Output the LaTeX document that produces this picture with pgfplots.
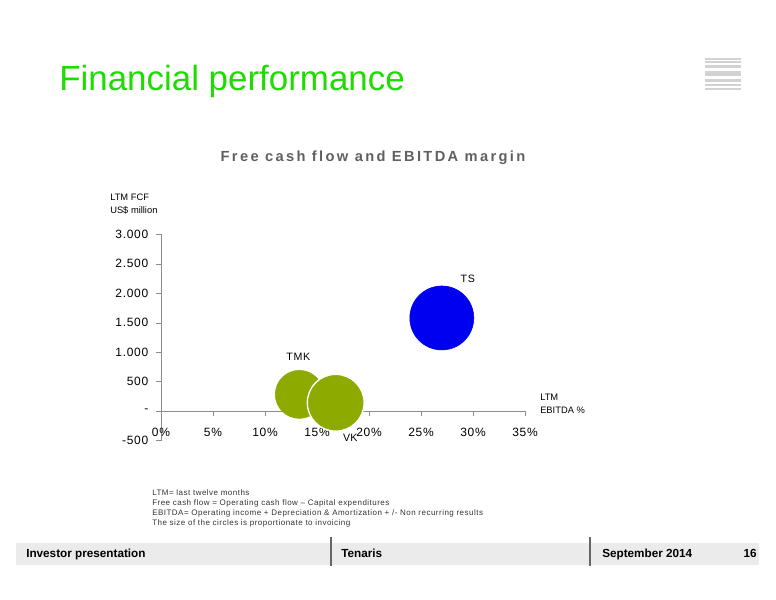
\documentclass[border=0pt]{standalone}
\usepackage{fontspec}
\setmainfont{Liberation Sans}
\usepackage{pgfplots}
\pgfplotsset{compat=1.18}

\definecolor{headgreen}{RGB}{30,220,0}
\definecolor{bubgreen}{RGB}{141,170,0}
\definecolor{tsblue}{RGB}{0,0,240}
\definecolor{titlegray}{RGB}{96,96,96}
\definecolor{barfill}{RGB}{235,235,235}
\definecolor{axgray}{RGB}{140,140,140}

\newcommand{\spaced}[1]{\addfontfeature{LetterSpace=#1}}

\begin{document}
\begin{tikzpicture}[x=0.75pt,y=-0.75pt]
\path (0,0) rectangle (776,600);

% heading
\node[anchor=base west,inner sep=0,text=headgreen,font=\fontsize{26.2}{30}\selectfont]
  at (59,90) {Financial performance};

% logo stripes
\foreach \a/\b in {58/60,61/62.5,64.5/68,70.5/76,79/82,83.5/86,88/89.5}
  \fill[gray!35] (705,\a) rectangle (741,\b);

% chart title
\node[anchor=center,inner sep=0,text=titlegray,font=\fontsize{11}{13}\selectfont\bfseries\spaced{16}]
  at (373,158) {Free cash flow and EBITDA margin};

% axis captions
\node[anchor=base west,inner sep=0,font=\fontsize{7}{8}\selectfont] at (110,200) {LTM FCF};
\node[anchor=base west,inner sep=0,font=\fontsize{7}{8}\selectfont] at (110,213) {US\$ million};
\node[anchor=base west,inner sep=0,font=\fontsize{7}{8}\selectfont] at (540,400) {LTM};
\node[anchor=base west,inner sep=0,font=\fontsize{7}{8}\selectfont] at (540,413) {EBITDA \%};

\begin{axis}[
  at={(120.75pt,-330.375pt)}, anchor=south west,
  scale only axis, width=273pt, height=154.65pt,
  xmin=0, xmax=35, ymin=-500, ymax=3000,
  axis lines=middle,
  axis line style={-,axgray},
  hide obscured x ticks=false, hide obscured y ticks=false,
  xtick={0,5,10,15,20,25,30,35},
  xticklabels={0\%,5\%,10\%,15\%,20\%,25\%,30\%,35\%},
  ytick={-500,0,500,1000,1500,2000,2500,3000},
  yticklabels={-500,-,500,1.000,1.500,2.000,2.500,3.000},
  tick align=outside, major tick length=4pt,
  tick style={axgray},
  ticklabel style={font=\fontsize{9}{10}\selectfont\spaced{6}},
  xticklabel style={yshift=-5pt},
  yticklabel style={xshift=-2pt},
  clip=false,
]
\addplot[only marks, mark=*, mark size=18pt, color=bubgreen] coordinates {(13.3,283)};
\addplot[only marks, mark=*, mark size=21.3pt, fill=bubgreen, draw=white, line width=1pt] coordinates {(16.8,141)};
\addplot[only marks, mark=*, mark size=24pt, color=tsblue] coordinates {(27.0,1580)};
\node[font=\fontsize{8}{9}\selectfont\spaced{6}] at (axis cs:29.5,2241) {TS};
\node[font=\fontsize{8}{9}\selectfont\spaced{6}] at (axis cs:13.2,917) {TMK};
\node[inner sep=0,font=\fontsize{8}{9}\selectfont] at (axis cs:18.2,-458) {VK};
\end{axis}

% footnotes
\foreach \t [count=\i] in {LTM= last twelve months,
  Free cash flow = Operating cash flow -- Capital expenditures,
  EBITDA= Operating income + Depreciation \& Amortization + /- Non recurring results,
  The size of the circles is proportionate to invoicing}
  \node[anchor=base west,inner sep=0,text=black!80,font=\fontsize{6}{7}\selectfont\spaced{6}]
    at (152,485+10*\i) {\t};

% footer
\fill[barfill] (16,543) rectangle (759,565);
\draw[gray!80!black,line width=0.8pt] (331,537) -- (331,566);
\draw[gray!80!black,line width=0.8pt] (590,537) -- (590,566);
\node[anchor=base west,inner sep=0,font=\fontsize{8.8}{10}\selectfont\bfseries] at (26,557.3) {Investor presentation};
\node[anchor=base west,inner sep=0,font=\fontsize{8.8}{10}\selectfont\bfseries] at (341,557.3) {Tenaris};
\node[anchor=base west,inner sep=0,font=\fontsize{8.8}{10}\selectfont\bfseries] at (602,557.3) {September 2014};
\node[anchor=base east,inner sep=0,font=\fontsize{8.8}{10}\selectfont\bfseries] at (757,557.3) {16};
\end{tikzpicture}
\end{document}
